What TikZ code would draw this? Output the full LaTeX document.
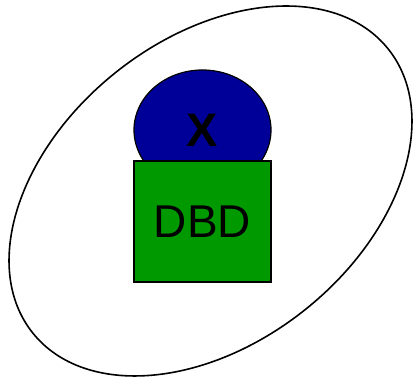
\documentclass[tikz,border=0pt]{standalone}
\usepackage{fontspec}
\setmainfont{Liberation Sans}
\newfontfamily\xboldfont{Liberation Sans}[UprightFont=*-Bold, BoldFont=*-Bold]
\usetikzlibrary{shapes.geometric}
\definecolor{dblue}{HTML}{000099}
\definecolor{dgreen}{HTML}{009900}
\begin{document}
\begin{tikzpicture}[x=1pt,y=1pt,
  outer/.style={draw=black, line width=1.6pt, ellipse, inner sep=0pt},
  headx/.style={ellipse, draw=black, fill=dblue, line width=1.2pt, minimum width=137, minimum height=120, inner sep=0pt},
  bodyd/.style={rectangle, draw=black, fill=dgreen, line width=1.2pt, minimum width=137, minimum height=121, inner sep=0pt}]
\useasboundingbox (0,0) rectangle (413,379);
\node[outer, minimum width=455, minimum height=303.6, rotate=38.6] (shell) at (210.5,188) {};
\node[headx] (head) at (202.5,249) {};
\node[bodyd] (body) at (202.5,157.5) {};
\node (xlab) at (202.5,249) {\fontsize{47}{56}\selectfont\textbf{X}};
\node[font=\fontsize{46}{55}\selectfont] (dlab) at (202.5,157) {DBD};
\end{tikzpicture}
\end{document}
